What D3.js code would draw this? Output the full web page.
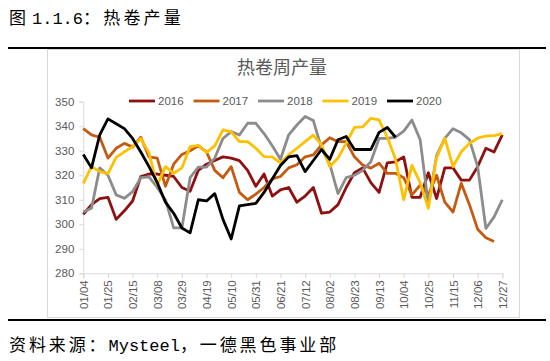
<!DOCTYPE html>
<html>
<head>
<meta charset="utf-8">
<script src="https://cdn.jsdelivr.net/npm/d3@7"></script>
<style>
body { margin: 0; background: #fff; }
text { font-family: "Liberation Sans", Arial, sans-serif; }
.cjk { font-family: "Noto Sans CJK SC", sans-serif; }
.mono { font-family: "Liberation Mono", monospace; }
</style>
</head>
<body>
<script>
var width = 550;
var height = 361;

// weekly dates on the category axis
var weeks = ['01/04','01/11','01/18','01/25','02/01','02/08','02/15','02/22','03/01','03/08',
  '03/15','03/22','03/29','04/05','04/12','04/19','04/26','05/03','05/10','05/17',
  '05/24','05/31','06/07','06/14','06/21','06/28','07/05','07/12','07/19','07/26',
  '08/02','08/09','08/16','08/23','08/30','09/06','09/13','09/20','09/27','10/04',
  '10/11','10/18','10/25','11/01','11/08','11/15','11/22','11/29','12/06','12/13',
  '12/20','12/27'];
var tickWeeks = weeks.filter(function(d, i) { return i % 3 === 0; });
var yTicks = [280, 290, 300, 310, 320, 330, 340, 350];

var years = ['2016', '2017', '2018', '2019', '2020'];
var colors = ['#8f1010', '#c55a11', '#8c8c8c', '#ffc000', '#000000'];

// weekly output per year
var s2016 = [304, 308, 310.5, 311, 302, 305.5, 309.5, 319.5, 320.5, 320.5,
  320, 319.5, 315, 313.5, 322, 324.5, 326, 327.5, 327, 326,
  322, 315.5, 320.5, 311.5, 314, 315, 309, 311.5, 315, 304.5,
  305, 308, 315, 321, 323, 317, 313, 325, 325.5, 327.5,
  311, 311, 321, 310.5, 323, 323, 318, 318, 323.5, 331,
  329.5, 336.5];
var s2017 = [339, 336.5, 335.5, 327, 331, 333, 331.5, 335.5, 327.5, 327,
  315.5, 324.5, 328.5, 330, 332, 329.5, 322, 319, 323.5, 313,
  310, 312.3, 315, 318.5, 319.5, 323, 324.3, 327.5, 328.3, 332.4,
  335.3, 333.7, 333.7, 327.5, 324.2, 322.9, 324.9, 320.8, 320.8, 319,
  312, 316, 312, 320, 309, 305, 316.7, 308, 298, 294.5,
  293];
var s2018 = [305, 306.5, 323, 320, 312, 310.6, 313.3, 319, 319.3, 315,
  310, 298.5, 298.5, 319, 323.3, 323.3, 327, 335, 337.8, 336.4,
  341.2, 341.2, 337, 332, 326.5, 336.5, 340.5, 344, 342.3, 331,
  324.5, 312.5, 319, 320, 322, 325.5, 335, 335, 335.5, 338,
  342.5, 334.5, 308, 328, 335, 339, 337.3, 334.5, 323.5, 298.3,
  303, 310];
var s2019 = [316.7, 323.5, 321.5, 320.7, 327.3, 329.5, 331.7, 335, 329, 316,
  323.5, 320.8, 323, 331.7, 332.2, 329.3, 332, 338.5, 337.7, 333.7,
  333.7, 331, 327.6, 327.5, 325, 328.3, 331, 333.7, 336.4, 332.4,
  323.5, 327, 333, 339.5, 339.7, 343.2, 342.6, 335.5, 326.6, 310,
  324, 317, 306.5, 327, 335.1, 323.5, 329.6, 333, 335.1, 336,
  336.2, 337];
var s2020 = [328.5, 323, 336.5, 343, 341, 339, 335, 329.5, 323.5, 317,
  309, 304.5, 298.5, 296.5, 310, 309.5, 312.5, 302, 294, 307.5,
  308, 308.5, 313, 318.5, 324, 327.5, 328, 321.5, 326, 330.5,
  326.5, 334.5, 335.8, 330.5, 330.5, 330.5, 337.5, 339.5, 335.5];

var series = [s2016, s2017, s2018, s2019, s2020];

var svg = d3.select('body')
  .append('svg')
  .attr('width', width)
  .attr('height', height);

svg.append('rect')
  .attr('width', width)
  .attr('height', height)
  .attr('fill', '#fff');

// page heading and rules
svg.append('text')
  .attr('class', 'cjk')
  .attr('x', 9)
  .attr('y', 24)
  .attr('font-size', 17)
  .attr('fill', '#000')
  .html('<tspan>图</tspan><tspan class="mono" dx="6">1.1.6</tspan><tspan style="letter-spacing:3.2px">：热卷产量</tspan>');

svg.append('line')
  .attr('x1', 8).attr('x2', 546)
  .attr('y1', 48).attr('y2', 48)
  .attr('stroke', '#000')
  .attr('stroke-width', 2);

// chart frame
svg.append('rect')
  .attr('x', 47.5)
  .attr('y', 49.5)
  .attr('width', 472)
  .attr('height', 268)
  .attr('fill', '#fff')
  .attr('stroke', '#d9d9d9');

svg.append('line')
  .attr('x1', 8).attr('x2', 546)
  .attr('y1', 320).attr('y2', 320)
  .attr('stroke', '#000')
  .attr('stroke-width', 2);

svg.append('text')
  .attr('class', 'cjk')
  .attr('x', 9)
  .attr('y', 351)
  .attr('font-size', 17)
  .attr('fill', '#000')
  .html('<tspan style="letter-spacing:2.9px">资料来源：</tspan><tspan class="mono">Mysteel</tspan><tspan style="letter-spacing:2.9px">，一德黑色事业部</tspan>');

// scales
var x = d3.scalePoint()
  .domain(weeks)
  .range([83.3, 502.3]);

var y = d3.scaleLinear()
  .domain([280, 350])
  .range([273.3, 101.7]);

// chart title
svg.append('text')
  .attr('class', 'cjk')
  .attr('x', 282)
  .attr('y', 74)
  .attr('text-anchor', 'middle')
  .attr('font-size', 18)
  .attr('fill', '#595959')
  .text('热卷周产量');

// y axis
var yAxis = svg.append('g')
  .attr('transform', 'translate(83.3,0)')
  .call(d3.axisLeft(y).tickValues(yTicks).tickSize(4).tickPadding(5));
yAxis.selectAll('text')
  .attr('font-size', 11.5)
  .attr('font-family', 'Liberation Sans, Arial, sans-serif')
  .attr('fill', '#595959');

// x axis
var xAxis = svg.append('g')
  .attr('transform', 'translate(0,273.3)')
  .call(d3.axisBottom(x).tickValues(tickWeeks).tickSize(5).tickPadding(4));
xAxis.selectAll('text')
  .attr('font-size', 11.5)
  .attr('font-family', 'Liberation Sans, Arial, sans-serif')
  .attr('fill', '#595959')
  .attr('text-anchor', 'end')
  .attr('transform', 'rotate(-90)')
  .attr('x', -7)
  .attr('y', 0)
  .attr('dy', '0.35em');

svg.selectAll('.domain, .tick line')
  .attr('stroke', '#d9d9d9');

// lines
var line = d3.line()
  .x(function(d, i) { return x(weeks[i]); })
  .y(function(d) { return y(d); });

svg.append('g')
  .selectAll('path')
  .data(series)
  .enter()
  .append('path')
  .attr('d', line)
  .attr('fill', 'none')
  .attr('stroke', function(d, i) { return colors[i]; })
  .attr('stroke-width', 2.8)
  .attr('stroke-linejoin', 'round');

// legend
var legend = svg.append('g')
  .selectAll('g')
  .data(years)
  .enter()
  .append('g')
  .attr('transform', function(d, i) { return 'translate(' + (129 + i * 64.5) + ',101)'; });

legend.append('line')
  .attr('x1', 0).attr('x2', 26)
  .attr('stroke', function(d, i) { return colors[i]; })
  .attr('stroke-width', 2.8);

legend.append('text')
  .attr('x', 29)
  .attr('dy', '0.35em')
  .attr('font-size', 11.5)
  .attr('fill', '#595959')
  .text(function(d) { return d; });
</script>
</body>
</html>
